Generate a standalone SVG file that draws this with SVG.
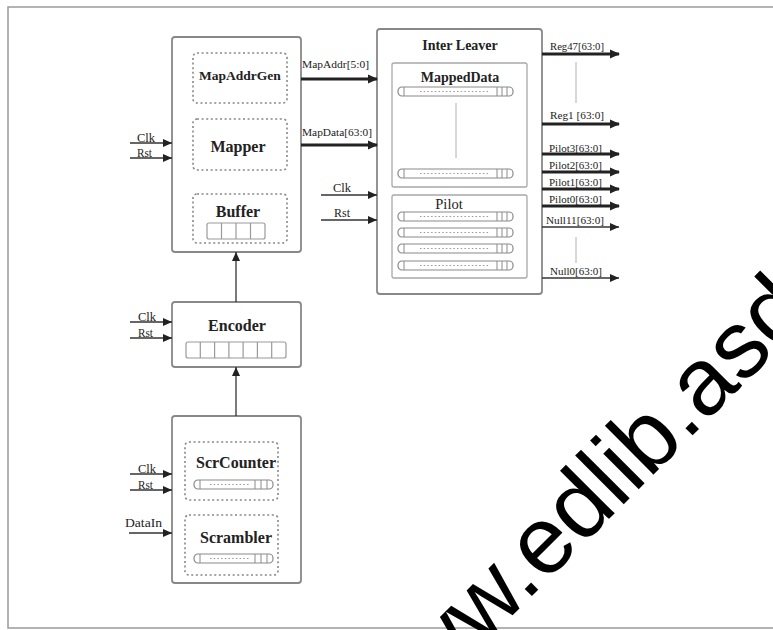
<svg xmlns="http://www.w3.org/2000/svg" width="773" height="630" viewBox="0 0 773 630">
<style>
.frame{fill:#fff;stroke:#9a9a9a;stroke-width:1.5}
.blk{fill:#fff;stroke:#888;stroke-width:1.8}
.dash{fill:none;stroke:#888;stroke-width:1.6;stroke-dasharray:2 2.6}
.sub{fill:none;stroke:#a8a8a8;stroke-width:1.3}
.cell{fill:#fff;stroke:#9a9a9a;stroke-width:1.2}
.thin{fill:none;stroke:#b0b0b0;stroke-width:1}
.t{font-family:"Liberation Serif","Times New Roman",serif;fill:#222}
.b{font-weight:bold}
.ti{font-size:16px;font-weight:bold;text-anchor:middle}
.lb{font-size:10px}
.ck{font-size:12px}
.w{stroke:#333;stroke-width:1.3;fill:none;marker-end:url(#ah)}
.wt{stroke:#222;stroke-width:3;fill:none;marker-end:url(#ahb)}
.barO{fill:#fff;stroke:#8a8a8a;stroke-width:1.2}
.barI{stroke:#8a8a8a;stroke-width:1}
.barD{stroke:#9a9a9a;stroke-width:1;stroke-dasharray:1.5 2.2}
.wm{font-family:"Liberation Sans",Arial,sans-serif;font-size:95px;fill:#000}
</style>
<defs>
<marker id="ah" markerUnits="userSpaceOnUse" markerWidth="9" markerHeight="8" refX="9" refY="4" orient="auto">
<path d="M0,0 L9,4 L0,8 z" fill="#222"/>
</marker>
<marker id="ahb" markerUnits="userSpaceOnUse" markerWidth="10" markerHeight="10" refX="9" refY="5" orient="auto">
<path d="M0,0.5 L10,5 L0,9.5 z" fill="#222"/>
</marker>
<g id="barL">
<rect class="barO" x="0" y="0" width="115" height="9" rx="4"/>
<line class="barI" x1="6" y1="0" x2="6" y2="9"/>
<line class="barI" x1="99" y1="0" x2="99" y2="9"/>
<line class="barI" x1="104" y1="0" x2="104" y2="9"/>
<line class="barI" x1="109" y1="0" x2="109" y2="9"/>
<line class="barD" x1="22" y1="4.5" x2="92" y2="4.5"/>
</g>
<g id="barS">
<rect class="barO" x="0" y="0" width="79" height="9" rx="4"/>
<line class="barI" x1="6" y1="0" x2="6" y2="9"/>
<line class="barI" x1="61" y1="0" x2="61" y2="9"/>
<line class="barI" x1="67" y1="0" x2="67" y2="9"/>
<line class="barI" x1="73" y1="0" x2="73" y2="9"/>
<line class="barD" x1="16" y1="4.5" x2="56" y2="4.5"/>
</g>
</defs>
<rect x="0" y="0" width="773" height="630" fill="#fff"/>
<rect class="frame" x="8" y="7" width="800" height="621"/>

<g id="mapper">
<rect class="blk" x="172" y="37" width="129" height="215" rx="3"/>
<rect class="dash" x="193" y="53" width="94" height="50" rx="4"/>
<text class="t b" x="240" y="80" font-size="13.5" text-anchor="middle">MapAddrGen</text>
<rect class="dash" x="193" y="119" width="94" height="51" rx="4"/>
<text class="t ti" x="238" y="152">Mapper</text>
<rect class="dash" x="193" y="194" width="94" height="49" rx="4"/>
<text class="t ti" x="238" y="217">Buffer</text>
<rect class="cell" x="207" y="223" width="58" height="16" rx="2"/>
<line class="cell" x1="221.5" y1="223" x2="221.5" y2="239"/>
<line class="cell" x1="236" y1="223" x2="236" y2="239"/>
<line class="cell" x1="250.5" y1="223" x2="250.5" y2="239"/>
</g>

<g id="encoder">
<rect class="blk" x="172" y="302" width="129" height="65" rx="3"/>
<text class="t ti" x="237" y="331" font-size="16.5">Encoder</text>
<rect class="cell" x="186" y="342" width="100" height="16" rx="2"/>
<line class="cell" x1="200.3" y1="342" x2="200.3" y2="358"/>
<line class="cell" x1="214.6" y1="342" x2="214.6" y2="358"/>
<line class="cell" x1="228.9" y1="342" x2="228.9" y2="358"/>
<line class="cell" x1="243.1" y1="342" x2="243.1" y2="358"/>
<line class="cell" x1="257.4" y1="342" x2="257.4" y2="358"/>
<line class="cell" x1="271.7" y1="342" x2="271.7" y2="358"/>
</g>

<g id="scrambler">
<rect class="blk" x="172" y="416" width="129" height="167" rx="3"/>
<rect class="dash" x="185" y="442" width="93" height="58" rx="4"/>
<text class="t ti" x="236" y="468">ScrCounter</text>
<use href="#barS" x="194" y="480"/>
<rect class="dash" x="185" y="515" width="93" height="60" rx="4"/>
<text class="t ti" x="236" y="543" font-size="16.5">Scrambler</text>
<use href="#barS" x="194" y="554"/>
</g>

<g id="interleaver">
<rect class="blk" x="377" y="29" width="165" height="265" rx="3"/>
<text class="t b" x="460" y="50" font-size="14" text-anchor="middle">Inter Leaver</text>
<rect class="sub" x="392" y="63" width="135" height="124" rx="2"/>
<text class="t b" x="460" y="82" font-size="14" text-anchor="middle">MappedData</text>
<use href="#barL" x="398" y="87"/>
<line class="thin" x1="456" y1="103" x2="456" y2="158"/>
<use href="#barL" x="398" y="169"/>
<rect class="sub" x="392" y="195" width="135" height="83" rx="2"/>
<text class="t" x="449" y="209" font-size="14.5" text-anchor="middle">Pilot</text>
<use href="#barL" x="398" y="212"/>
<use href="#barL" x="398" y="228"/>
<use href="#barL" x="398" y="244"/>
<use href="#barL" x="398" y="261"/>
</g>

<g id="connectors">
<line class="w" x1="236" y1="302" x2="236" y2="252"/>
<line class="w" x1="236" y1="416" x2="236" y2="367"/>
<line class="w" x1="130" y1="143" x2="172" y2="143"/>
<line class="w" x1="130" y1="158" x2="172" y2="158"/>
<line class="w" x1="130" y1="322" x2="172" y2="322"/>
<line class="w" x1="130" y1="338" x2="172" y2="338"/>
<line class="w" x1="130" y1="474" x2="172" y2="474"/>
<line class="w" x1="130" y1="490" x2="172" y2="490"/>
<line class="w" x1="129" y1="533" x2="172" y2="533"/>
<line class="wt" x1="301" y1="79" x2="377" y2="79"/>
<line class="wt" x1="301" y1="145" x2="377" y2="145"/>
<line class="w" x1="321" y1="195" x2="377" y2="195"/>
<line class="w" x1="321" y1="220" x2="377" y2="220"/>
<line class="wt" x1="542" y1="54" x2="619" y2="54"/>
<line class="thin" x1="576" y1="62" x2="576" y2="103"/>
<line class="wt" x1="542" y1="124" x2="619" y2="124"/>
<line class="wt" x1="542" y1="154" x2="619" y2="154"/>
<line class="wt" x1="542" y1="172" x2="619" y2="172"/>
<line class="wt" x1="542" y1="189" x2="619" y2="189"/>
<line class="wt" x1="542" y1="206" x2="619" y2="206"/>
<line class="w" x1="542" y1="227" x2="619" y2="227"/>
<line class="thin" x1="576" y1="237" x2="576" y2="263"/>
<line class="w" x1="542" y1="278" x2="619" y2="278"/>

<text class="t ck" x="137" y="142" textLength="18" lengthAdjust="spacingAndGlyphs">Clk</text>
<text class="t ck" x="137" y="157" textLength="15" lengthAdjust="spacingAndGlyphs">Rst</text>
<text class="t ck" x="138" y="321" textLength="18" lengthAdjust="spacingAndGlyphs">Clk</text>
<text class="t ck" x="138" y="337" textLength="15" lengthAdjust="spacingAndGlyphs">Rst</text>
<text class="t ck" x="138" y="473" textLength="18" lengthAdjust="spacingAndGlyphs">Clk</text>
<text class="t ck" x="138" y="489" textLength="15" lengthAdjust="spacingAndGlyphs">Rst</text>
<text class="t ck" x="125" y="527" textLength="37" lengthAdjust="spacingAndGlyphs">DataIn</text>
<text class="t ck" x="333" y="192" textLength="18" lengthAdjust="spacingAndGlyphs">Clk</text>
<text class="t ck" x="334" y="217" textLength="16" lengthAdjust="spacingAndGlyphs">Rst</text>
<text class="t lb" x="302" y="68" textLength="67" lengthAdjust="spacingAndGlyphs">MapAddr[5:0]</text>
<text class="t lb" x="302" y="136" textLength="70" lengthAdjust="spacingAndGlyphs">MapData[63:0]</text>
<text class="t lb" x="550" y="50" textLength="54" lengthAdjust="spacingAndGlyphs">Reg47[63:0]</text>
<text class="t lb" x="550" y="119" textLength="54" lengthAdjust="spacingAndGlyphs">Reg1 [63:0]</text>
<text class="t lb" x="549" y="152" textLength="53" lengthAdjust="spacingAndGlyphs">Pilot3[63:0]</text>
<text class="t lb" x="549" y="169" textLength="53" lengthAdjust="spacingAndGlyphs">Pilot2[63:0]</text>
<text class="t lb" x="549" y="186" textLength="53" lengthAdjust="spacingAndGlyphs">Pilot1[63:0]</text>
<text class="t lb" x="549" y="203" textLength="53" lengthAdjust="spacingAndGlyphs">Pilot0[63:0]</text>
<text class="t lb" x="546" y="224" textLength="58" lengthAdjust="spacingAndGlyphs">Null11[63:0]</text>
<text class="t lb" x="550" y="275" textLength="52" lengthAdjust="spacingAndGlyphs">Null0[63:0]</text>
</g>

<text class="wm" transform="translate(384,744) rotate(-45)">www.edlib.asd</text>
</svg>
